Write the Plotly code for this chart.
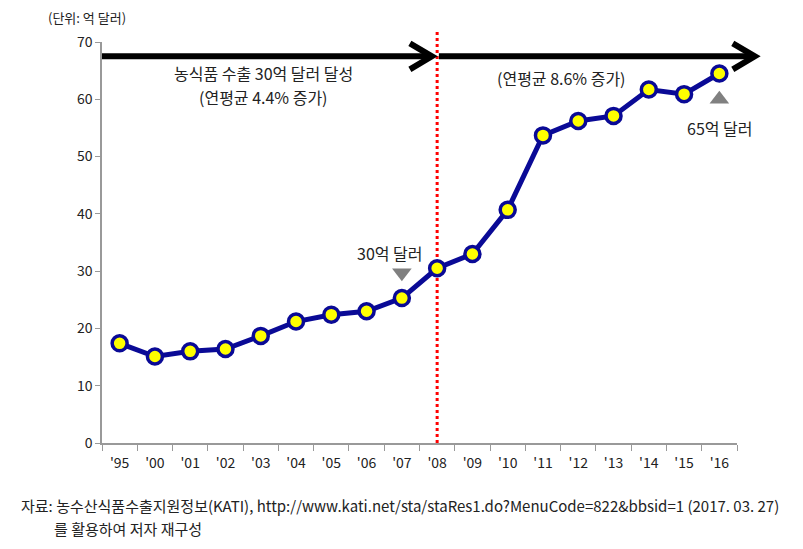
import plotly.graph_objects as go

years = ["'95", "'00", "'01", "'02", "'03", "'04", "'05", "'06", "'07",
         "'08", "'09", "'10", "'11", "'12", "'13", "'14", "'15", "'16"]
exports = [17.4, 15.1, 16.0, 16.4, 18.7, 21.2, 22.4, 23.0, 25.3,
           30.5, 33.0, 40.7, 53.7, 56.2, 57.1, 61.7, 60.9, 64.5]
marker_years = ["'07", "'16"]
marker_vals = [29.7, 60.0]
marker_syms = ["triangle-down", "triangle-up"]

KR = "Noto Sans CJK KR, Noto Sans, sans-serif"
TXT = "#222222"

fig = go.Figure()
fig.add_trace(go.Scatter(
    x=years, y=exports, mode="lines+markers",
    line=dict(color="#0a0a96", width=5),
    marker=dict(size=15, color="#ffff00", line=dict(color="#0a0a96", width=3.5)),
    hoverinfo="skip", showlegend=False, cliponaxis=False))
fig.add_trace(go.Scatter(
    x=marker_years, y=marker_vals, mode="markers",
    marker=dict(size=17, color="#808080", symbol=marker_syms),
    hoverinfo="skip", showlegend=False, cliponaxis=False))

shapes = []
# red dotted divider at '08
shapes.append(dict(type="line", xref="x", yref="paper", x0="'08", x1="'08",
                   y0=0, y1=1.03, line=dict(color="#ff0000", width=3, dash="dot"), layer="below"))
# arrows (paper coords)
ay = 67.5 / 70
def arrow(x0, x1):
    out = [dict(type="line", xref="paper", yref="paper", x0=x0, x1=x1, y0=ay, y1=ay,
                line=dict(color="#000000", width=6))]
    dx = 22 / 635.0
    dy = 13 / 401.0
    out.append(dict(type="path", xref="paper", yref="paper",
                    path=f"M {x1-dx} {ay+dy} L {x1} {ay} L {x1-dx} {ay-dy}",
                    line=dict(color="#000000", width=6)))
    return out
shapes += arrow(0.0, 0.5195)
shapes += arrow(0.5305, 1.028)

def note(text, x, y, size=16, xanchor="center"):
    return dict(text=text, xref="paper", yref="paper", x=x, y=y,
                xanchor=xanchor, yanchor="middle", showarrow=False,
                font=dict(family=KR, size=size, color=TXT))

annotations = [
    note("농식품 수출 30억 달러 달성", 0.254, 0.923),
    note("(연평균 4.4% 증가)", 0.254, 0.863),
    note("(연평균 8.6% 증가)", 0.723, 0.910),
    note("65억 달러", 0.973, 0.785),
    note("30억 달러", 0.454, 0.474),
    note("(단위: 억 달러)", -0.023, 1.062, size=13),
    note("자료: 농수산식품수출지원정보(KATI), http://www.kati.net/sta/staRes1.do?MenuCode=822&bbsid=1 (2017. 03. 27)",
         -0.13, -0.155, size=15, xanchor="left"),
    note("를 활용하여 저자 재구성", -0.078, -0.212, size=15, xanchor="left"),
]

fig.update_layout(
    width=795, height=541,
    margin=dict(l=94, r=66, t=34, b=106, pad=0),
    paper_bgcolor="white", plot_bgcolor="white",
    shapes=shapes, annotations=annotations,
    xaxis=dict(type="category", categoryorder="array", categoryarray=years,
               range=[-0.5, 17.5], showgrid=False, zeroline=False,
               showline=True, linecolor="#999999", linewidth=1.5,
               ticks="outside", ticklen=6, tickcolor="#999999", tickson="boundaries",
               ticklabelstandoff=6,
               tickfont=dict(family=KR, size=14, color=TXT)),
    yaxis=dict(range=[0, 70], dtick=10, showgrid=False, zeroline=False,
               showline=True, linecolor="#999999", linewidth=1.5,
               ticks="outside", ticklen=5, tickcolor="#999999",
               tickfont=dict(family=KR, size=14, color=TXT)),
)
fig.write_html("out.html")
